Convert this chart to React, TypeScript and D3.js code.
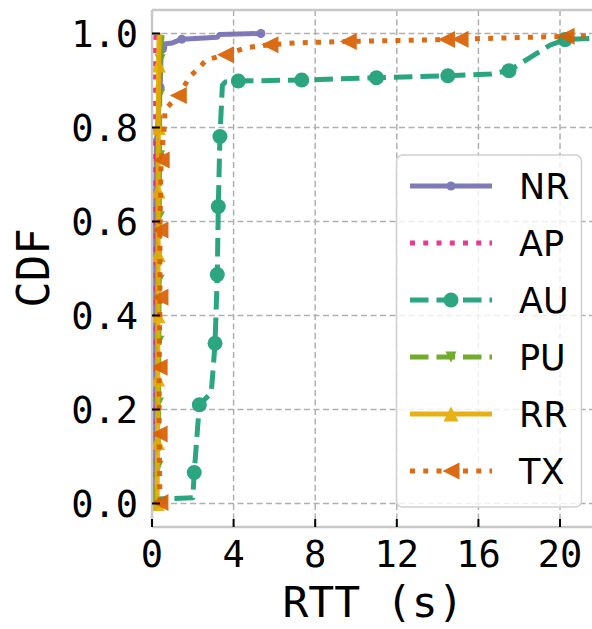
import React, { useEffect, useRef } from 'react';
import * as d3 from 'd3';

// [x (s), cdf, marker?]
const NR_PTS = [
  [0.0, 0.0, 1], [0.05, 0.11, 1], [0.08, 0.22, 1], [0.1, 0.33, 1], [0.12, 0.44, 1],
  [0.15, 0.55, 1], [0.18, 0.66, 1], [0.22, 0.77, 1], [0.4, 0.885, 1], [0.45, 0.96, 0],
  [0.6, 0.965, 0], [0.65, 0.978, 0], [1.0, 0.98, 0], [1.46, 0.988, 1], [3.2, 0.992, 0],
  [3.3, 0.998, 0], [5.34, 1.0, 1],
];
const AP_PTS = [
  [0.0, 0.0, 0], [0.02, 0.3, 0], [0.05, 0.6, 0], [0.08, 0.8, 0], [0.12, 0.95, 0], [0.2, 1.0, 0],
];
const AU_PTS = [
  [0.0, 0.0, 1], [0.02, 0.0094, 0], [2.0, 0.012, 0], [2.07, 0.066, 1], [2.32, 0.21, 1],
  [2.9, 0.235, 0], [2.95, 0.26, 0], [3.09, 0.341, 1], [3.2, 0.487, 1], [3.25, 0.632, 1],
  [3.33, 0.781, 1], [3.45, 0.89, 0], [3.6, 0.897, 0], [4.23, 0.899, 1], [7.34, 0.901, 1],
  [11.0, 0.906, 1], [14.5, 0.91, 1], [16.6, 0.914, 0], [17.5, 0.921, 1], [19.5, 0.975, 0],
  [20.25, 0.987, 1], [21.7, 0.99, 0],
];
const PU_PTS = [
  [0.0, 0.0, 0], [0.3, 0.079, 1], [0.32, 0.214, 1], [0.34, 0.345, 1], [0.35, 0.475, 1],
  [0.36, 0.61, 1], [0.37, 0.74, 1], [0.38, 0.87, 1], [0.4, 0.944, 1], [0.5, 1.0, 0],
];
const RR_PTS = [
  [0.25, 0.0, 1], [0.27, 0.13, 1], [0.28, 0.265, 1], [0.29, 0.4, 1], [0.3, 0.53, 1],
  [0.3, 0.665, 1], [0.31, 0.8, 1], [0.32, 0.933, 1], [0.35, 1.0, 0],
];
const TX_PTS = [
  [0.39, 0.002, 1], [0.35, 0.148, 1], [0.35, 0.29, 1], [0.39, 0.439, 1], [0.39, 0.582, 1],
  [0.45, 0.731, 1], [0.6, 0.8, 0], [0.64, 0.838, 0], [1.29, 0.868, 1], [1.86, 0.908, 0],
  [2.68, 0.944, 0], [3.6, 0.955, 1], [4.64, 0.97, 0], [5.78, 0.976, 1], [7.0, 0.98, 0],
  [9.62, 0.983, 1], [14.44, 0.987, 1], [15.1, 0.988, 1], [20.3, 0.994, 1], [21.7, 0.995, 0],
];

const NAMES = ['NR', 'AP', 'AU', 'PU', 'RR', 'TX'];
const COLORS = ['#7570b3', '#e7298a', '#1b9e77', '#66a61e', '#e6ab02', '#d95f02'];
const X_TICKS = [0, 4, 8, 12, 16, 20];
const Y_TICKS = [0, 0.2, 0.4, 0.6, 0.8, 1.0];

export default function App() {
  const ref = useRef<SVGSVGElement>(null);

  /* SIZE */
  const W = 592;
  const H = 629;
  const LW = 5;
  const MONO = "'DejaVu Sans Mono', monospace";
  const SANS = "'DejaVu Sans', sans-serif";

  function marker(g: any, kind: string, cx: number, cy: number, color: string) {
    if (kind === 'bigdot') {
      g.append('circle').attr('cx', cx).attr('cy', cy).attr('r', 7.5).attr('fill', color);
    } else if (kind === 'dot') {
      g.append('circle').attr('cx', cx).attr('cy', cy).attr('r', 4.5).attr('fill', color);
    } else if (kind === 'up') {
      const s = 7.5;
      g.append('path').attr('fill', color)
        .attr('d', `M${cx},${cy - s}L${cx - s},${cy + s}L${cx + s},${cy + s}Z`);
    } else if (kind === 'down') {
      const s = 5.5;
      g.append('path').attr('fill', color)
        .attr('d', `M${cx},${cy + s}L${cx - s},${cy - s}L${cx + s},${cy - s}Z`);
    } else if (kind === 'left') {
      const s = 8.5;
      g.append('path').attr('fill', color)
        .attr('d', `M${cx - s},${cy}L${cx + s},${cy - s}L${cx + s},${cy + s}Z`);
    }
  }

  function draw() {
    document.body.style.margin = '0';
    const svg = d3.select(ref.current);
    svg.selectAll('*').remove();

    const x = d3.scaleLinear().domain([0, 21.7]).range([152, 594.7]);
    const y = d3.scaleLinear().domain([-0.05, 1.05]).range([527, 10]);
    const [x0, x1] = x.range();
    const [y1, y0] = y.range();

    svg.append('defs').append('clipPath').attr('id', 'plotclip')
      .append('rect').attr('x', x0).attr('y', y0).attr('width', x1 - x0).attr('height', y1 - y0);

    // grid
    const grid = svg.append('g');
    X_TICKS.forEach(t => {
      grid.append('line').attr('x1', x(t)).attr('x2', x(t)).attr('y1', y0).attr('y2', y1)
        .attr('stroke', '#b0b0b0').attr('stroke-width', 1.5).attr('stroke-dasharray', '6,3.5');
    });
    Y_TICKS.forEach(t => {
      grid.append('line').attr('x1', x0).attr('x2', x1).attr('y1', y(t)).attr('y2', y(t))
        .attr('stroke', '#b0b0b0').attr('stroke-width', 1.5).attr('stroke-dasharray', '6,3.5');
    });

    const series = [
      { pts: NR_PTS, dash: null, mk: 'dot' },
      { pts: AP_PTS, dash: `${LW},${LW * 1.65}`, mk: null },
      { pts: AU_PTS, dash: `${LW * 3.7},${LW * 1.6}`, mk: 'bigdot' },
      { pts: PU_PTS, dash: `${LW * 3.7},${LW * 1.6}`, mk: 'down' },
      { pts: RR_PTS, dash: null, mk: 'up' },
      { pts: TX_PTS, dash: `${LW},${LW * 1.65}`, mk: 'left' },
    ];

    const line = d3.line<number[]>().x(d => x(d[0])).y(d => y(d[1]));
    const plot = svg.append('g').attr('clip-path', 'url(#plotclip)');
    series.forEach((s, i) => {
      const g = plot.append('g').attr('opacity', 0.92);
      g.append('path')
        .attr('d', line(s.pts))
        .attr('fill', 'none')
        .attr('stroke', COLORS[i])
        .attr('stroke-width', LW)
        .attr('stroke-linejoin', 'round')
        .attr('stroke-dasharray', s.dash);
      if (s.mk) {
        s.pts.filter(p => p[2]).forEach(p => marker(g, s.mk, x(p[0]), y(p[1]), COLORS[i]));
      }
    });

    // spines
    const spine = svg.append('g').attr('stroke', '#c8c8c8').attr('stroke-width', 2.5);
    spine.append('line').attr('x1', x0).attr('x2', x0).attr('y1', y0).attr('y2', y1);
    spine.append('line').attr('x1', x0).attr('x2', W + 5).attr('y1', y0).attr('y2', y0);
    spine.append('line').attr('x1', x0).attr('x2', W + 5).attr('y1', y1).attr('y2', y1);

    // ticks (inward) + labels
    X_TICKS.forEach(t => {
      svg.append('line').attr('x1', x(t)).attr('x2', x(t)).attr('y1', y1).attr('y2', y1 - 8)
        .attr('stroke', '#000').attr('stroke-width', 2);
      svg.append('text').attr('x', x(t)).attr('y', 567).attr('text-anchor', 'middle')
        .attr('font-family', MONO).attr('font-size', 37).text(String(t));
    });
    Y_TICKS.forEach(t => {
      svg.append('line').attr('x1', x0).attr('x2', x0 + 8).attr('y1', y(t)).attr('y2', y(t))
        .attr('stroke', '#000').attr('stroke-width', 2);
      svg.append('text').attr('x', 138).attr('y', y(t) + 13).attr('text-anchor', 'end')
        .attr('font-family', MONO).attr('font-size', 37).text(t.toFixed(1));
    });

    svg.append('text').attr('x', 373).attr('y', 617).attr('text-anchor', 'middle')
      .attr('font-family', MONO).attr('font-size', 43).text('RTT (s)');
    svg.append('text').attr('transform', `translate(49,268) rotate(-90)`).attr('text-anchor', 'middle')
      .attr('font-family', MONO).attr('font-size', 44).text('CDF');

    // legend
    const lg = svg.append('g');
    lg.append('rect').attr('x', 396.5).attr('y', 155).attr('width', 185).attr('height', 352)
      .attr('rx', 6).attr('fill', 'white').attr('fill-opacity', 0.8)
      .attr('stroke', '#d0d0d0').attr('stroke-width', 1.5);
    series.forEach((s, i) => {
      const cy = 186 + i * 57;
      const g = lg.append('g').attr('opacity', 0.92);
      g.append('line').attr('x1', 410).attr('x2', 492).attr('y1', cy).attr('y2', cy)
        .attr('stroke', COLORS[i]).attr('stroke-width', LW).attr('stroke-dasharray', s.dash);
      if (s.mk) marker(g, s.mk, 451, cy, COLORS[i]);
      lg.append('text').attr('x', 519).attr('y', cy + 12.5)
        .attr('font-family', SANS).attr('font-size', 35).text(NAMES[i]);
    });
  }

  useEffect(() => {
    draw();
  }, []);

  return (
    <svg ref={ref} width={W} height={H} style={{ display: 'block', background: 'white' }}></svg>
  );
}
